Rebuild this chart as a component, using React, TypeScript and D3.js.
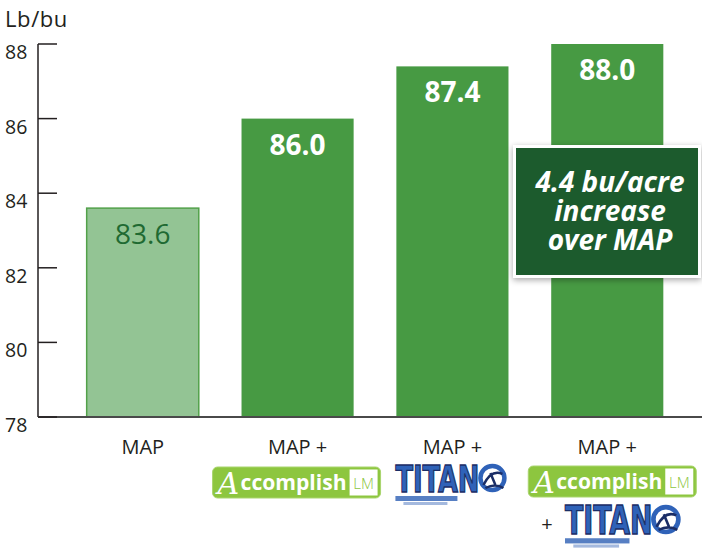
import React from "react";
import * as d3 from "d3";

const categories = ["MAP", "MAP + Accomplish LM", "MAP + TITAN", "MAP + Accomplish LM + TITAN"];
const values = [83.6, 86.0, 87.4, 88.0];
const yTicks = [78, 80, 82, 84, 86, 88];
const yUnit = "Lb/bu";
const calloutLines = ["4.4 bu/acre", "increase", "over MAP"];

const W = 702;
const H = 552;
const FONT = "'Open Sans', 'Noto Sans', sans-serif";

function AccomplishLogo({ x, y }: { x: number; y: number }) {
  return (
    <g transform={`translate(${x},${y})`}>
      <rect x={0} y={0} width={168} height={31} rx={5} fill="#8dc63f" stroke="#a9d56e" strokeWidth={1} />
      <rect x={137} y={2.5} width={28} height={26} fill="#ffffff" />
      <text x={151} y={22} textAnchor="middle" fontFamily={FONT} fontSize={15} fill="#8dc63f" fontWeight={300}>LM</text>
      <text x={5} y={27} fontFamily="'DejaVu Serif', 'Liberation Serif', serif" fontStyle="italic" fontSize={30} fill="#ffffff">A</text>
      <text x={28} y={23} fontFamily={FONT} fontWeight={700} fontSize={21} fill="#ffffff" textLength={106} lengthAdjust="spacingAndGlyphs">ccomplish</text>
    </g>
  );
}

function TitanLogo({ x, y, s }: { x: number; y: number; s: number }) {
  return (
    <g transform={`translate(${x},${y}) scale(${s})`}>
      <text x={0} y={27} fontFamily="'DejaVu Sans Condensed', 'DejaVu Sans', sans-serif" fontWeight={900} fontSize={37} fill="#2f62b8" stroke="#1a2d66" strokeWidth={1.3} textLength={84} lengthAdjust="spacingAndGlyphs">TITAN</text>
      <circle cx={97} cy={13} r={12} fill="none" stroke="#2f62b8" strokeWidth={4.5} />
      <path d="M88,20 Q96,4 107,9 M90,23 Q100,18 108,23 M95,8 L100,20" fill="none" stroke="#1a2d66" strokeWidth={2.5} />
      <rect x={0} y={31} width={62} height={5} fill="#3a68b8" opacity={0.85} />
      <rect x={8} y={37} width={44} height={3} fill="#7d9bd0" opacity={0.7} />
    </g>
  );
}

export default function App() {
  const y = d3.scaleLinear().domain([78, 88]).range([417, 44]);
  const x = d3.scaleBand<string>().domain(categories).range([65, 685]).paddingInner(0.276).paddingOuter(0.14);
  const fmt = d3.format(".1f");
  const axisX = 38;

  const cx = (i: number) => (x(categories[i]) as number) + x.bandwidth() / 2;

  return (
    <svg width={W} height={H} style={{ position: "absolute", left: 0, top: 0, background: "#fff" }}>
      <defs>
        <filter id="shadow" x="-20%" y="-20%" width="140%" height="140%">
          <feDropShadow dx={0} dy={2} stdDeviation={3} floodColor="#000" floodOpacity={0.35} />
        </filter>
      </defs>

      {/* unit label */}
      <text x={5} y={27} fontFamily={FONT} fontSize={22} fill="#231f20" letterSpacing={0.6}>{yUnit}</text>

      {/* bars */}
      {values.map((v, i) => {
        const bx = x(categories[i]) as number;
        const top = y(v);
        const first = i === 0;
        return (
          <g key={categories[i]}>
            <rect
              x={bx}
              y={top}
              width={x.bandwidth()}
              height={y(78) - top}
              fill={first ? "#93c494" : "#479a43"}
              stroke={first ? "#52a14a" : "none"}
              strokeWidth={1.5}
            />
            <text
              x={bx + x.bandwidth() / 2}
              y={top + 36}
              textAnchor="middle"
              fontFamily={FONT}
              fontWeight={first ? 400 : 700}
              fontSize={28}
              fill={first ? "#1f6a32" : "#ffffff"}
            >
              {fmt(v)}
            </text>
          </g>
        );
      })}

      {/* axis */}
      <line x1={axisX} x2={axisX} y1={y(88)} y2={y(78)} stroke="#231f20" strokeWidth={1.5} />
      <line x1={axisX} x2={W} y1={y(78)} y2={y(78)} stroke="#4a4a4a" strokeWidth={2} />
      {yTicks.map((t) => (
        <g key={t}>
          <line x1={axisX} x2={axisX + 19} y1={y(t)} y2={y(t)} stroke="#231f20" strokeWidth={1.5} />
          <text x={5} y={y(t) + 15} fontFamily={FONT} fontSize={19.5} fill="#231f20">{t}</text>
        </g>
      ))}

      {/* category labels */}
      {categories.map((c, i) => (
        <text key={c} x={cx(i)} y={454} textAnchor="middle" fontFamily={FONT} fontSize={20} fill="#231f20">
          {i === 0 ? "MAP" : "MAP +"}
        </text>
      ))}

      {/* logos */}
      <AccomplishLogo x={cx(1) - 85} y={467} />
      <TitanLogo x={cx(2) - 57} y={465} s={1} />
      <AccomplishLogo x={cx(3) - 79} y={466} />
      <text x={547} y={531} textAnchor="middle" fontFamily={FONT} fontSize={20} fill="#231f20">+</text>
      <TitanLogo x={565} y={506} s={1.04} />

      {/* callout */}
      <g filter="url(#shadow)">
        <rect x={513} y={145} width={188} height={133} fill="#ffffff" />
      </g>
      <rect x={516} y={148} width={182} height={127} fill="#1c5b2d" />
      <text
        x={610}
        y={192}
        textAnchor="middle"
        fontFamily={FONT}
        fontWeight={700}
        fontStyle="italic"
        fontSize={28}
        fill="#ffffff"
      >
        {calloutLines.map((l, i) => (
          <tspan key={l} x={610} dy={i === 0 ? 0 : 29}>{l}</tspan>
        ))}
      </text>
    </svg>
  );
}
